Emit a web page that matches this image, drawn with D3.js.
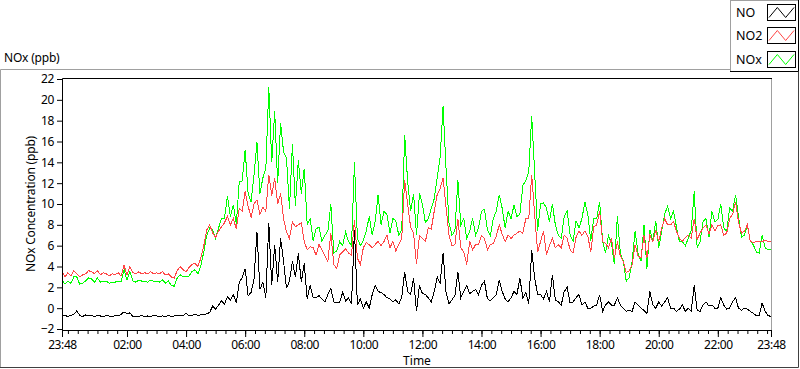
<!DOCTYPE html>
<html><head><meta charset="utf-8">
<script src="https://cdn.jsdelivr.net/npm/d3@7"></script>
<style>
body{margin:0;background:#fff}
svg{display:block}
text{font-family:"Noto Sans","DejaVu Sans",sans-serif;fill:#000}
.tick text{letter-spacing:-0.4px}
</style>
</head><body>
<svg id="c" width="800" height="369"></svg>
<script>
// ---- data (6-minute samples starting 23:48) ----
const seriesNames = ["NO", "NO2", "NOx"];
const seriesColors = ["#000000", "#ff4646", "#00ff00"];
const xTickLabels = ["23:48","02:00","04:00","06:00","08:00","10:00","12:00","14:00","16:00","18:00","20:00","22:00","23:48"];
const yTickValues = [-2,0,2,4,6,8,10,12,14,16,18,20,22];
const sampleMinutes = 6;

const NO = [
-0.75,-0.7,-0.8,-0.7,-0.6,-0.25,-0.7,-0.8,-0.65,-0.75,
-0.7,-0.8,-0.7,-0.75,-0.8,-0.7,-0.75,-0.8,-0.7,-0.75,
-0.6,-0.35,-0.55,-0.45,-0.8,-0.75,-0.8,-0.7,-0.8,-0.75,
-0.8,-0.7,-0.75,-0.8,-0.75,-0.8,-0.7,-0.8,-0.75,-0.7,
-0.75,-0.7,-0.5,-0.75,-0.7,-0.55,-0.7,-0.65,-0.6,-0.55,
-0.4,0.2,-0.1,0.3,0.7,0.4,1.1,0.8,1.3,0.5,
2.5,2.9,3.8,1.2,1.5,2.8,7.3,1.8,2.5,1.0,
8.2,2.2,6.1,2.5,6.7,4.5,1.9,2.6,4.5,3.0,
5.3,2.5,4.3,0.9,2.2,1.0,1.0,1.2,0.9,0.6,
1.3,1.9,0.6,0.5,0.6,1.5,0.7,1.0,0.4,7.5,
0.3,0.9,0.0,0.6,0.0,1.3,2.2,1.6,1.5,1.3,
1.0,0.9,0.6,0.8,0.4,1.0,3.5,1.6,1.3,2.9,
-0.3,2.2,1.4,1.3,1.0,0.6,1.6,3.0,2.4,5.3,
1.5,0.4,0.8,1.2,3.5,1.0,1.6,2.2,1.4,1.6,
1.8,1.3,2.2,2.6,0.9,0.7,1.0,1.3,2.7,1.6,
0.9,0.6,1.0,1.6,1.3,2.9,1.0,1.5,0.4,5.6,
2.9,1.3,1.3,0.9,1.6,0.6,3.2,0.8,0.6,0.3,
1.6,2.0,0.5,0.6,1.0,1.3,0.3,0.6,0.0,0.0,
0.2,0.3,1.3,-0.3,0.3,0.6,0.3,0.3,1.0,0.3,
0.0,-0.3,-0.2,-0.3,0.6,0.3,0.0,-0.2,-0.5,1.6,
0.3,0.0,0.6,0.2,0.6,1.0,0.0,0.0,-0.3,-0.1,
0.3,-0.3,0.0,-0.3,2.2,-0.2,-0.3,0.3,0.6,0.2,
0.3,0.0,0.0,1.0,0.3,-0.1,0.0,0.6,1.0,0.0,
-0.2,0.0,-0.1,-0.3,-0.5,-0.7,-0.7,0.5,-0.3,-0.7,-0.8
];
const NO2 = [
3.5,3.0,3.4,3.1,3.6,3.3,3.0,3.2,3.3,3.6,
3.5,3.3,3.6,3.2,3.4,3.3,3.1,3.3,3.2,3.4,
3.1,4.1,3.2,4.0,3.4,3.3,3.5,3.3,3.4,3.3,
3.5,3.3,3.4,3.3,3.5,3.2,3.3,3.0,2.9,3.6,
4.0,3.7,3.5,3.9,4.2,4.3,4.0,4.8,6.0,7.5,
8.0,7.2,6.8,7.4,7.8,8.2,8.8,8.0,8.6,7.6,
9.6,9.3,11.2,9.8,8.7,10.0,10.4,9.0,9.7,9.3,
12.8,10.8,12.5,10.0,11.0,8.6,7.3,6.7,8.3,7.8,
8.0,8.2,6.4,5.6,5.9,5.8,5.1,6.1,5.6,5.0,
4.5,7.2,4.2,3.8,5.1,5.4,5.7,5.3,5.1,8.5,
4.8,4.2,5.8,6.3,6.1,5.8,6.1,6.4,6.0,6.4,
7.0,5.8,6.4,5.5,6.1,6.7,12.3,10.0,7.8,7.2,
4.2,7.0,6.7,6.4,7.7,7.6,9.3,10.9,11.5,12.5,
9.7,7.0,6.0,6.1,8.6,5.8,5.4,4.2,6.4,5.6,
6.1,6.1,7.0,6.7,5.6,6.1,6.2,6.9,8.0,7.1,
6.4,7.0,6.7,7.0,7.2,7.4,7.2,8.6,8.6,12.8,
9.0,5.4,6.4,7.4,5.1,6.0,6.7,5.8,6.1,5.8,
7.0,6.7,5.6,5.3,6.8,7.4,7.0,7.4,6.9,5.4,
7.8,8.0,9.3,6.4,6.2,5.8,6.7,4.8,6.4,5.0,
4.5,3.4,3.6,4.2,6.1,5.0,4.8,7.0,4.8,7.0,
6.4,7.5,6.4,7.7,8.6,8.0,8.0,8.3,7.4,6.7,
6.4,6.8,7.0,6.7,8.6,6.6,7.2,7.7,8.0,7.1,
8.0,7.4,7.9,8.0,7.0,7.2,8.6,9.0,10.2,8.3,
7.2,7.4,8.0,6.4,6.3,6.4,6.4,6.4,6.5,6.4,6.4
];
const NOx = [
2.7,2.3,2.6,2.4,3.0,3.0,2.3,2.4,2.6,2.9,
2.8,2.5,2.9,2.5,2.6,2.6,2.4,2.5,2.5,2.6,
2.5,3.7,2.7,3.5,2.6,2.5,2.7,2.6,2.6,2.5,
2.7,2.6,2.6,2.5,2.7,2.4,2.6,2.2,2.1,2.9,
3.2,3.0,3.0,3.1,3.5,3.7,3.3,4.1,5.4,7.0,
7.7,7.5,6.7,7.7,8.6,8.6,10.8,8.8,9.9,8.1,
12.1,12.2,15.2,11.0,10.2,12.8,15.9,11.0,12.5,13.4,
21.2,14.0,18.9,12.0,17.8,15.0,14.4,9.5,15.8,9.8,
14.2,11.0,13.4,8.0,8.6,6.5,7.6,7.8,6.4,7.0,
7.4,10.0,5.3,5.5,6.4,6.0,7.3,6.4,6.0,14.0,
6.7,6.0,6.5,7.4,8.8,7.0,8.3,10.9,8.0,9.3,
9.0,7.2,8.6,8.4,7.0,7.5,16.6,12.2,9.3,11.0,
7.0,11.0,10.0,8.2,8.6,9.6,10.5,12.5,14.5,19.4,
13.4,8.2,7.0,7.4,12.3,8.0,8.6,6.7,7.4,8.6,
7.0,7.7,9.3,9.5,7.5,7.0,8.6,9.3,10.9,9.6,
7.7,9.3,8.6,9.9,8.8,9.0,11.8,12.2,13.1,18.4,
13.0,7.4,10.0,10.1,9.6,8.3,10.0,8.0,7.0,6.7,
8.8,9.3,7.0,6.4,8.4,7.7,8.6,10.2,9.0,6.5,
8.6,8.6,10.2,6.4,5.3,7.0,6.2,4.2,8.8,5.3,
4.5,2.6,2.9,4.5,7.4,5.3,4.5,8.0,3.8,7.5,
6.4,8.4,5.8,7.4,9.0,9.8,8.6,9.3,7.8,6.4,
6.4,6.0,6.7,7.5,11.2,5.8,6.4,8.3,8.6,6.8,
9.3,8.3,8.5,10.0,7.7,7.4,9.6,9.3,10.9,8.8,
6.8,7.0,8.0,6.4,6.1,5.4,5.3,7.0,5.8,5.6,5.6
];

// ---- chart ----
const svg = d3.select("#c");
const t0 = new Date(2024, 0, 1, 23, 48);
const t1 = new Date(2024, 0, 2, 23, 48);
const L = 62, R = 772, T = 78, B = 330;
const x = d3.scaleTime().domain([t0, t1]).range([L, R - 1]);
const y = d3.scaleLinear().domain([-2, 22]).range([B - 1, T + 1]);
const timeAt = i => new Date(t0.getTime() + i * sampleMinutes * 60000);

// outer frame
svg.append("path").attr("d", `M0.5,368 V69.5 H731`).attr("fill","none").attr("stroke","#a0a0a0");
svg.append("path").attr("d", `M0,367.5 H798.5 V72`).attr("fill","none").attr("stroke","#404040");

// title
svg.append("text").attr("x", 4).attr("y", 62).style("font-size","12px").style("letter-spacing","-0.2px").text("NOx (ppb)");

// plot background
svg.append("rect").attr("x", L).attr("y", T).attr("width", R - L).attr("height", B - T).attr("fill","#fff");

// y axis
const yAxis = d3.axisLeft(y).tickValues(yTickValues).tickSize(5).tickPadding(3).tickSizeOuter(0);
const gy = svg.append("g").attr("transform", `translate(${L},0)`).call(yAxis);
gy.select(".domain").remove();
gy.selectAll("text").style("font-size","12px").attr("font-family", null);

// x axis major ticks
const xTickDates = xTickLabels.map((s, k) => {
  if (k === 0) return t0;
  if (k === xTickLabels.length - 1) return t1;
  const [h, m] = s.split(":").map(Number);
  return new Date(2024, 0, 2, h, m);
});
const xAxis = d3.axisBottom(x).tickValues(xTickDates).tickFormat((d, k) => xTickLabels[k]).tickSize(7).tickPadding(3).tickSizeOuter(0);
const gx = svg.append("g").attr("transform", `translate(0,${B})`).call(xAxis);
gx.select(".domain").remove();
gx.selectAll("text").style("font-size","12px").attr("font-family", null);

// minor ticks every 20 minutes
const minorDates = d3.timeMinute.every(20).range(new Date(2024,0,2,0,0), t1);
const xMinor = d3.axisBottom(x).tickValues(minorDates).tickFormat("").tickSize(4).tickSizeOuter(0);
const gm = svg.append("g").attr("transform", `translate(0,${B})`).call(xMinor);
gm.select(".domain").remove();

// lines
svg.append("clipPath").attr("id","clp").append("rect").attr("x", L).attr("y", T).attr("width", R - L).attr("height", B - T);
const line = d3.line().x((d, i) => x(timeAt(i))).y(d => y(d));
const plots = [NOx, NO2, NO];
const plotColors = [seriesColors[2], seriesColors[1], seriesColors[0]];
plots.forEach((arr, k) => {
  svg.append("path").datum(arr).attr("d", line).attr("fill","none")
    .attr("stroke", plotColors[k]).attr("stroke-width", 1).attr("clip-path","url(#clp)")
    .attr("shape-rendering","crispEdges");
});

// plot border
svg.append("path").attr("d", `M${R-0.5},${T} V${B+0.5} H${L}`).attr("fill","none").attr("stroke","#a0a0a0");
svg.append("path").attr("d", `M${L+0.5},${B+1} V${T+0.5} H${R}`).attr("fill","none").attr("stroke","#000");
svg.append("path").attr("d", `M${L},${B+0.5} H${R}`).attr("fill","none").attr("stroke","#000");

// axis titles
svg.append("text").attr("transform", `translate(35,${(T+B)/2}) rotate(-90)`).attr("text-anchor","middle").style("font-size","12px").style("letter-spacing","-0.2px").text("NOx Concentration (ppb)");
svg.append("text").attr("x", (L+R)/2).attr("y", 365).attr("text-anchor","middle").style("font-size","12px").text("Time");

// legend
const lg = svg.append("g");
lg.append("rect").attr("x", 730.5).attr("y", 0.5).attr("width", 68).attr("height", 71).attr("fill","#fff").attr("stroke","#a0a0a0");
lg.append("path").attr("d","M798.5,0 V71.5 H730").attr("fill","none").attr("stroke","#000");
seriesNames.forEach((nm, k) => {
  const yy = 4 + k * 23.3;
  lg.append("text").attr("x", 736).attr("y", yy + 13).style("font-size","12.5px").text(nm);
  lg.append("rect").attr("x", 767.5).attr("y", Math.round(yy) + 0.5).attr("width", 28).attr("height", 16).attr("fill","#fff").attr("stroke","#000");
  const sx = d3.scaleLinear().domain([0, 3]).range([769, 794]);
  const sy = d3.scaleLinear().domain([0, 1]).range([Math.round(yy) + 13.5, Math.round(yy) + 3.5]);
  const zig = [0, 1, 0, 1];
  lg.append("path").datum(zig).attr("d", d3.line().x((d, i) => sx(i)).y(d => sy(d)))
    .attr("fill","none").attr("stroke", seriesColors[k]).attr("stroke-width", 1);
});
</script>
</body></html>
